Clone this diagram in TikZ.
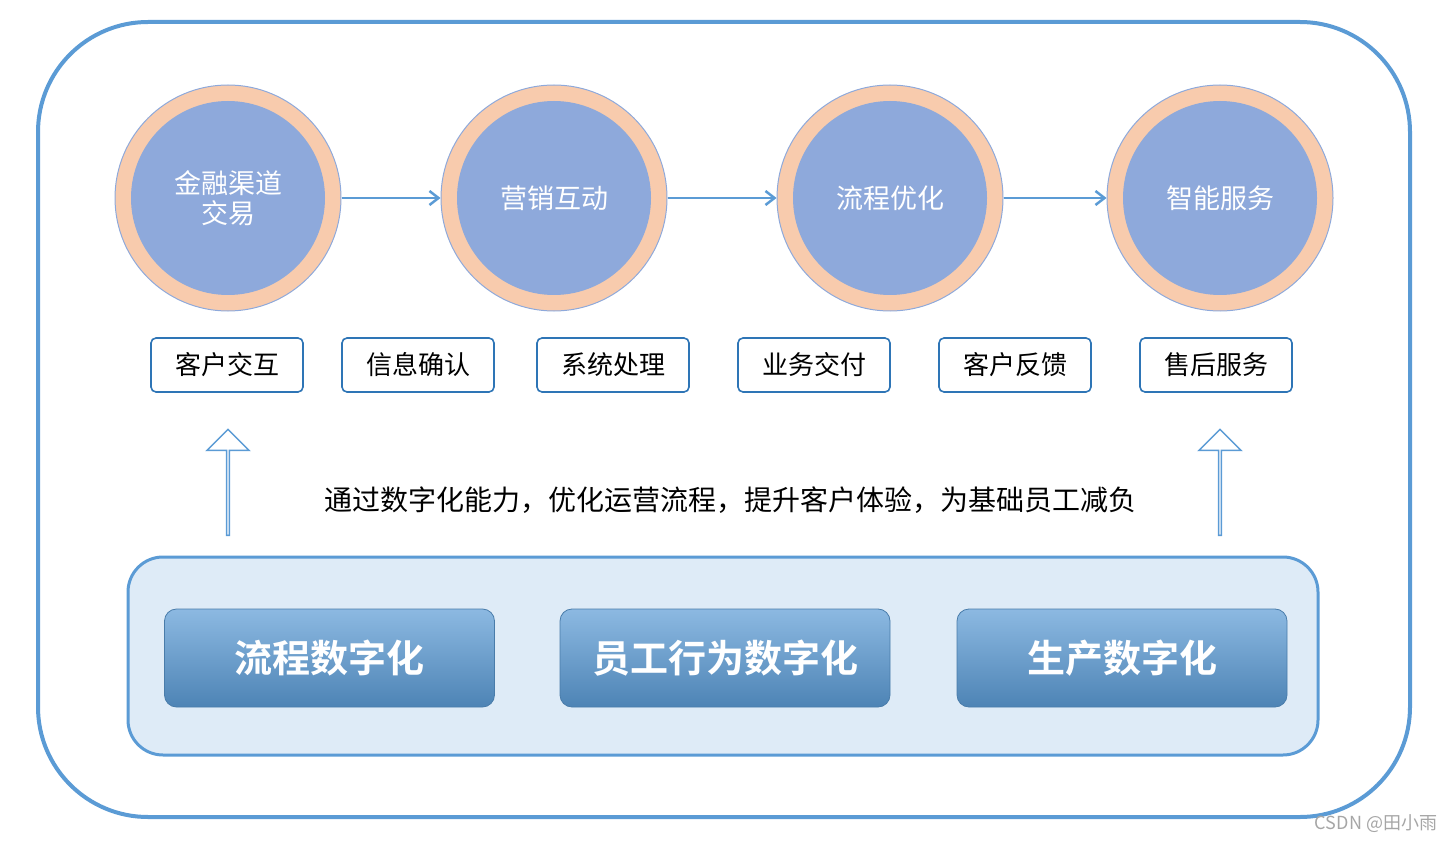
\documentclass[tikz,border=0pt]{standalone}
\usepackage{fontspec}
\setmainfont{Noto Sans CJK SC}
\newfontfamily\cjkb[BoldFont={* Bold}]{Noto Sans CJK SC}
\usetikzlibrary{arrows.meta,shapes.arrows}
\definecolor{blu}{HTML}{5B9BD5}
\definecolor{dblu}{HTML}{2E75B6}
\definecolor{peach}{HTML}{F8CBAD}
\definecolor{cin}{HTML}{8EA9DB}
\definecolor{pan}{HTML}{DEEBF7}
\tikzset{
 outc/.style={circle,draw=cin,fill=peach,line width=1pt,minimum size=226pt,inner sep=0pt},
 inc/.style={circle,fill=cin,minimum size=194pt,inner sep=0pt,text=white,font=\fontsize{27pt}{30pt}\selectfont,align=center},
 flow/.style={draw=blu,line width=2.5pt,-{Straight Barb[length=9pt,width=14pt]}},
 tag/.style={draw=dblu,line width=1.6pt,rounded corners=5pt,minimum width=152pt,minimum height=54pt,font=\fontsize{26pt}{30pt}\selectfont,fill=white},
 btn/.style={rounded corners=12pt,draw=blu!80!black,line width=0.8pt,top color=blu!70!white,bottom color=blu!85!black,minimum width=330pt,minimum height=98pt,text=white,font=\cjkb\bfseries\fontsize{38pt}{42pt}\selectfont},
 uparrow/.style={single arrow,shape border rotate=90,draw=blu,line width=1.5pt,fill=white,minimum height=106pt,minimum width=42pt,single arrow head extend=11pt,single arrow head indent=0pt,single arrow tip angle=90,inner sep=0pt}
}
\begin{document}
\begin{tikzpicture}[x=1pt,y=-1pt]
\useasboundingbox (0,0) rectangle (1456,842);
\draw[blu,line width=4pt,rounded corners=110pt] (38,22) rectangle (1410,817);
\foreach \n/\x/\t in {c1/228/{金融渠道\\交易},c2/554/营销互动,c3/890/流程优化,c4/1220/智能服务}{
 \node[outc] (\n o) at (\x,198) {};
 \node[inc] (\n) at (\x,198) {\t};
}
\draw[flow] (c1o.east) -- (c2o.west);
\draw[flow] (c2o.east) -- (c3o.west);
\draw[flow] (c3o.east) -- (c4o.west);
\foreach \n/\x/\t in {t1/227/客户交互,t2/418/信息确认,t3/613/系统处理,t4/814/业务交付,t5/1015/客户反馈,t6/1216/售后服务}{
 \node[tag] (\n) at (\x,365) {\t};
}
\node[uparrow] (a1) at (228,483) {};
\node[uparrow] (a2) at (1220,483) {};
\node[font=\fontsize{28pt}{32pt}\selectfont] (txt) at (730,500) {通过数字化能力，优化运营流程，提升客户体验，为基础员工减负};
\draw[blu,line width=3pt,fill=pan,rounded corners=35pt] (128,557) rectangle (1318,755);
\node[btn] (b1) at (329.5,658) {流程数字化};
\node[btn] (b2) at (725,658) {员工行为数字化};
\node[btn] (b3) at (1122,658) {生产数字化};
\node[text=gray!70,font=\fontsize{18pt}{20pt}\selectfont] (wm) at (1376,824) {CSDN @田小雨};
\end{tikzpicture}
\end{document}
